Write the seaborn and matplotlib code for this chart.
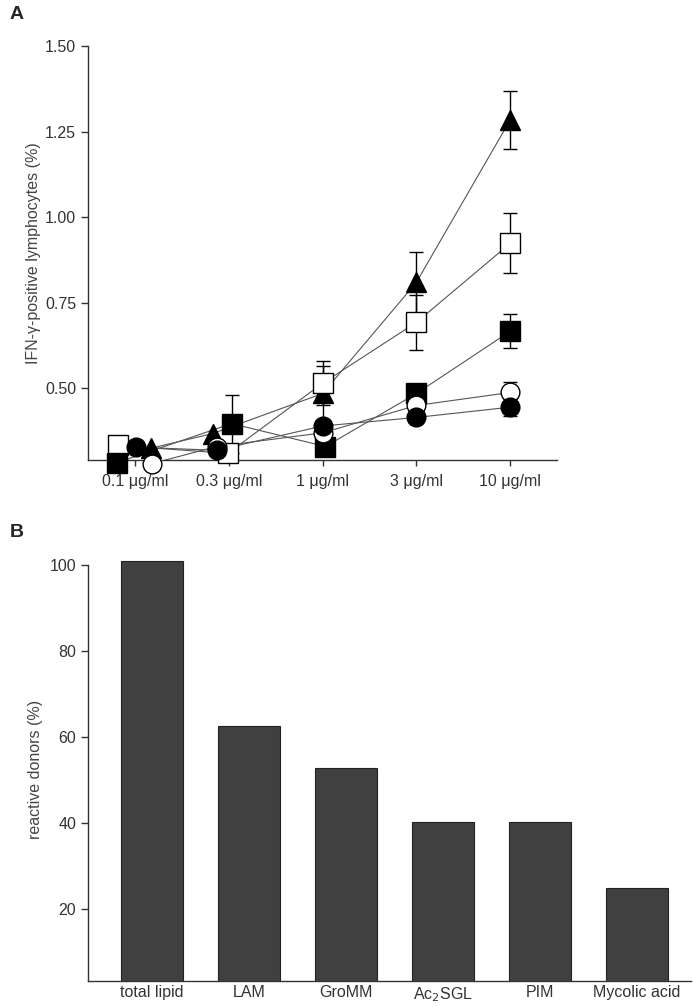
import matplotlib
matplotlib.use('Agg')

import numpy as np
import pandas as pd
import seaborn as sns
import matplotlib.pyplot as plt

# panel A: dose response, 5 lipid preparations
doses = ['0.1 μg/ml', '0.3 μg/ml', '1 μg/ml', '3 μg/ml', '10 μg/ml']
tri_filled = [0.325, 0.368, 0.485, 0.81, 1.285]
sq_open = [0.333, 0.31, 0.515, 0.693, 0.924]
sq_filled = [0.283, 0.397, 0.33, 0.485, 0.667]
circ_open = [0.28, 0.33, 0.37, 0.45, 0.488]
circ_filled = [0.328, 0.319, 0.39, 0.415, 0.445]

tri_err = [0, 0, 0.08, 0.09, 0.085]
sq_open_err = [0, 0, 0.065, 0.08, 0.088]
sq_filled_err = [0, 0.085, 0, 0, 0.05]
circ_open_err = [0, 0, 0, 0, 0.03]
circ_filled_err = [0, 0, 0, 0, 0.025]

# panel B: reactive donors per antigen
antigens = ['total lipid', 'LAM', 'GroMM', 'Ac$_2$SGL', 'PIM', 'Mycolic acid']
reactive = [101, 62.5, 52.7, 40.1, 40.1, 24.9]

sns.set_theme(style='ticks')
plt.rcParams['font.family'] = ['Liberation Sans', 'DejaVu Sans']
text_col = '#333333'

fig = plt.figure(figsize=(6.93, 10.07), dpi=100)
ax_a = fig.add_axes([0.127, 0.543, 0.677, 0.411])
ax_b = fig.add_axes([0.127, 0.026, 0.870, 0.419])

# ---- panel A ----
# (name, values, errors, marker, face, size, small horizontal dodge per dose)
series = [
    ('tri', tri_filled, tri_err, '^', 'black', 15, [0.17, -0.17, 0, 0, 0]),
    ('sq_open', sq_open, sq_open_err, 's', 'white', 14, [-0.18, -0.01, 0, 0, 0]),
    ('sq_filled', sq_filled, sq_filled_err, 's', 'black', 14, [-0.19, 0.03, 0.03, 0, 0]),
    ('circ_open', circ_open, circ_open_err, 'o', 'white', 13.5, [0.18, -0.13, 0, 0, 0]),
    ('circ_filled', circ_filled, circ_filled_err, 'o', 'black', 13.5, [0.01, -0.13, 0, 0, 0]),
]
x = np.arange(len(doses))
rows = []
for name, vals, _, _, _, _, dodge in series:
    for i, v in enumerate(vals):
        rows.append({'series': name, 'dose': x[i] + dodge[i], 'value': v})
df_a = pd.DataFrame(rows)
sns.lineplot(data=df_a, x='dose', y='value', units='series', estimator=None,
             color='#555555', linewidth=0.8, ax=ax_a, zorder=1)

for name, vals, errs, mk, face, ms, dodge in series:
    xs = x + np.array(dodge)
    errs = np.array(errs)
    mask = errs > 0
    ax_a.errorbar(xs[mask], np.array(vals)[mask], yerr=errs[mask], fmt='none',
                  ecolor='black', elinewidth=1, capsize=5, capthick=1, zorder=2,
                  clip_on=False)
    ax_a.plot(xs, vals, linestyle='none', marker=mk, markersize=ms,
              markerfacecolor=face, markeredgecolor='black', markeredgewidth=1,
              zorder=3, clip_on=False)

ax_a.set_xlim(-0.5, 4.5)
ax_a.set_ylim(0.29, 1.5)
ax_a.set_xticks(x)
ax_a.set_xticklabels(doses)
ax_a.set_yticks([0.5, 0.75, 1.0, 1.25, 1.5])
ax_a.set_yticklabels(['0.50', '0.75', '1.00', '1.25', '1.50'])
ax_a.set_xlabel('')
ax_a.set_ylabel('IFN-γ-positive lymphocytes (%)', fontsize=11.5, color='#444444', labelpad=3)
sns.despine(ax=ax_a)

# ---- panel B ----
df_b = pd.DataFrame({'antigen': antigens, 'reactive': reactive})
sns.barplot(data=df_b, x='antigen', y='reactive', color='#404040', saturation=1,
            width=0.64, edgecolor='#222222', linewidth=0.8, ax=ax_b)
ax_b.set_xlim(-0.66, 5.56)
ax_b.set_ylim(3.2, 101.5)
ax_b.set_yticks([20, 40, 60, 80, 100])
ax_b.set_xlabel('')
ax_b.set_ylabel('reactive donors (%)', fontsize=11.5, color='#444444', labelpad=5)
sns.despine(ax=ax_b)
ax_b.spines['left'].set_bounds(3.2, 100)

for ax in (ax_a, ax_b):
    ax.tick_params(axis='both', labelsize=11.5, colors=text_col, length=5, width=1)
    for s in ('left', 'bottom'):
        ax.spines[s].set_color('#333333')
        ax.spines[s].set_linewidth(1)
ax_a.tick_params(axis='x', length=4, pad=6)
ax_b.tick_params(axis='x', length=0, pad=3)

fig.text(0.014, 0.986, 'A', fontsize=14, fontweight='bold', va='center')
fig.text(0.014, 0.471, 'B', fontsize=14, fontweight='bold', va='center')

fig.savefig('out.png', dpi=100)
plt.close(fig)
